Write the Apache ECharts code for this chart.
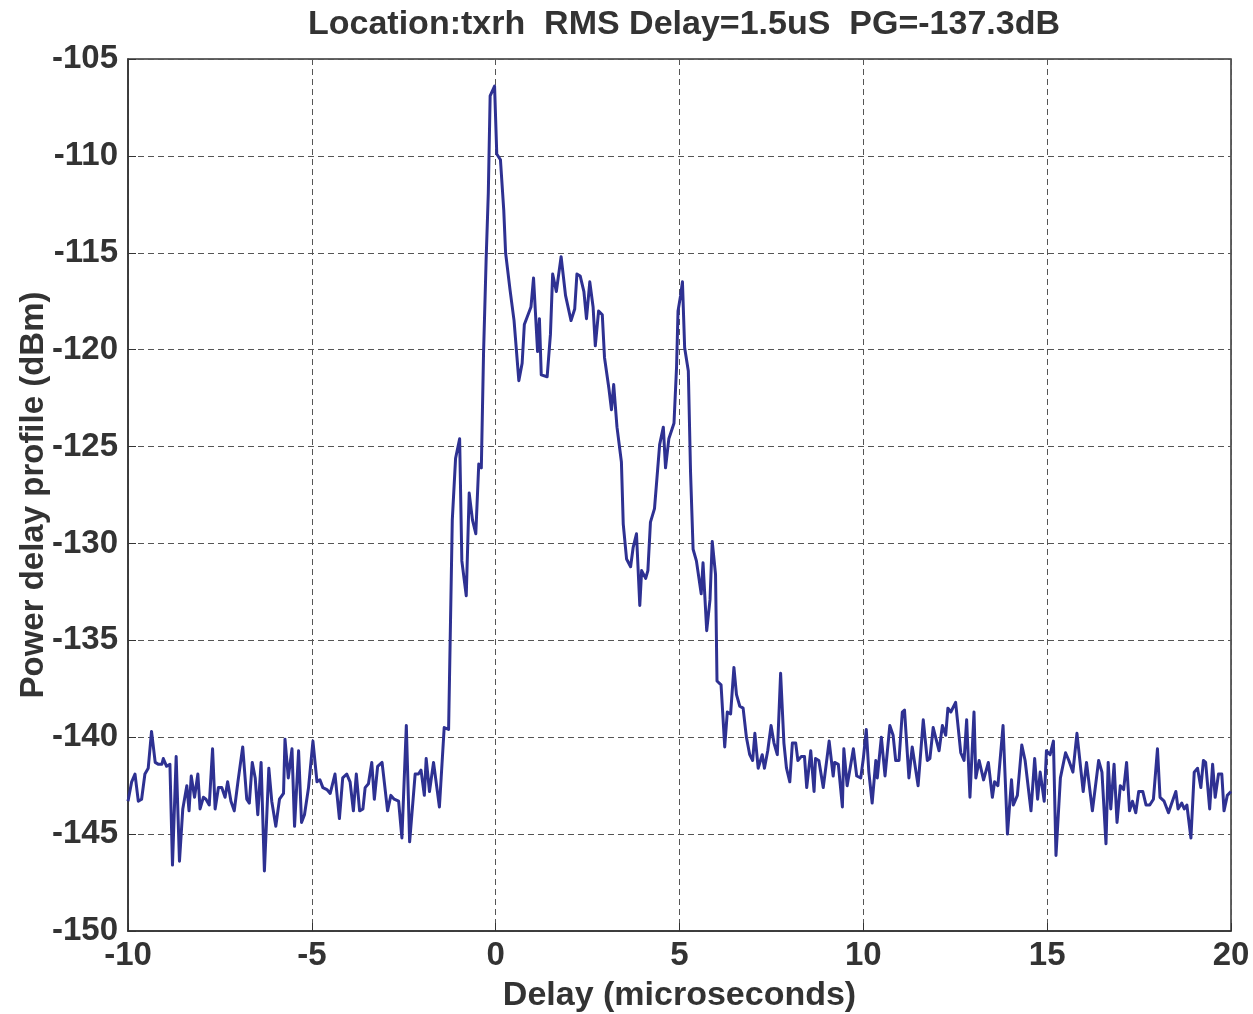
<!DOCTYPE html>
<html>
<head>
<meta charset="utf-8">
<script src="https://cdn.jsdelivr.net/npm/echarts@6/dist/echarts.min.js"></script>
<style>
html,body{margin:0;padding:0;background:#fff;}
#chart{width:1253px;height:1014px;}
</style>
</head>
<body>
<div id="chart"></div>
<script>
const titleText = 'Location:txrh  RMS Delay=1.5uS  PG=-137.3dB';
const xAxisName = 'Delay (microseconds)';
const yAxisName = 'Power delay profile (dBm)';
const xTicks = [-10, -5, 0, 5, 10, 15, 20];
const yTicks = [-150, -145, -140, -135, -130, -125, -120, -115, -110, -105];

const delays = [
-10.00,-9.90,-9.81,-9.72,-9.63,-9.54,-9.45,-9.36,-9.26,-9.17,-9.08,-9.04,-8.95,-8.86,-8.79,-8.69,-8.60,-8.51,-8.40,-8.34,
-8.28,-8.19,-8.10,-8.04,-7.95,-7.88,-7.79,-7.70,-7.63,-7.54,-7.45,-7.36,-7.29,-7.20,-7.11,-7.01,-6.88,-6.77,-6.70,-6.62,
-6.54,-6.47,-6.38,-6.29,-6.17,-6.09,-5.98,-5.88,-5.77,-5.73,-5.64,-5.54,-5.47,-5.36,-5.28,-5.20,-5.09,-4.97,-4.86,
-4.78,-4.70,-4.59,-4.50,-4.37,-4.25,-4.16,-4.05,-3.96,-3.87,-3.79,-3.70,-3.61,-3.55,-3.46,-3.37,-3.30,-3.21,-3.09,-2.94,
-2.85,-2.76,-2.64,-2.55,-2.43,-2.34,-2.19,-2.10,-2.03,-1.94,-1.89,-1.80,-1.69,-1.53,-1.40,-1.28,
-1.18,-1.09,-0.98,-0.92,-0.80,-0.72,-0.63,-0.54,-0.46,-0.39,-0.33,-0.26,-0.20,-0.15,-0.03,0.03,0.13,0.22,0.27,0.39,
0.50,0.55,0.63,0.72,0.78,0.96,1.03,1.14,
1.19,1.24,1.40,1.49,1.55,1.65,1.78,1.90,2.05,2.15,2.21,2.30,2.40,2.47,2.56,2.65,2.71,2.80,2.90,2.96,
3.08,3.15,3.21,3.30,3.42,3.47,3.56,3.67,3.74,3.83,3.92,3.97,4.08,4.14,4.21,4.32,4.46,4.56,4.62,4.71,
4.85,4.92,4.96,5.03,5.08,5.14,5.24,5.30,
5.37,5.46,5.59,5.64,5.74,5.83,5.89,5.98,6.02,6.13,6.23,6.30,6.39,6.48,6.55,6.64,6.73,6.82,6.91,6.99,
7.05,7.14,7.25,7.31,7.40,7.49,7.57,7.66,7.75,7.84,7.91,8.00,8.07,8.16,8.22,8.31,8.40,8.46,8.57,8.66,
8.70,8.79,8.91,9.07,9.18,9.22,9.32,9.43,9.47,9.56,9.73,
9.82,9.93,10.00,10.08,10.15,10.24,10.34,10.38,10.49,10.59,10.72,10.81,10.88,10.97,11.06,11.12,11.24,11.33,11.49,11.63,
11.74,11.81,11.90,12.06,12.15,12.24,12.30,12.38,12.51,12.65,12.74,12.81,12.90,13.01,13.06,13.15,13.27,13.40,13.51,13.57,
13.66,13.80,13.92,14.03,14.08,14.19,14.31,14.40,
14.56,14.66,14.74,14.81,14.92,14.98,15.08,15.17,15.24,15.36,15.50,15.59,15.70,15.81,15.98,16.07,16.23,16.40,16.49,16.60,
16.66,16.73,16.82,16.90,16.99,17.08,17.16,17.24,17.32,17.41,17.49,17.60,17.69,17.79,17.89,18.00,18.07,18.18,18.30,18.39,
18.50,18.56,18.66,18.73,18.80,18.91,19.00,19.09,19.18,19.25,19.31,19.42,19.50,19.57,19.66,19.75,19.81,19.90,20.00
];

const power = [
-143.3,-142.3,-141.9,-143.3,-143.2,-141.9,-141.6,-139.7,-141.3,-141.4,-141.4,-141.1,-141.5,-141.4,-146.6,-141.0,-146.4,-143.7,-142.5,-143.8,
-142.0,-143.1,-141.9,-143.7,-143.1,-143.2,-143.5,-140.6,-143.7,-142.6,-142.6,-143.1,-142.3,-143.3,-143.8,-142.3,-140.5,-143.2,-143.4,-141.3,
-142.1,-144.0,-141.3,-146.9,-141.6,-143.3,-144.6,-143.2,-142.9,-140.1,-142.1,-140.6,-144.6,-140.7,-144.4,-144.0,-142.6,-140.2,-142.3,
-142.2,-142.6,-142.7,-142.9,-141.9,-144.2,-142.1,-141.9,-142.3,-143.8,-141.9,-143.8,-143.7,-142.6,-142.4,-141.3,-143.2,-141.5,-141.3,-143.8,
-143.0,-143.2,-143.3,-145.2,-139.4,-145.4,-141.9,-141.9,-141.7,-143.0,-141.1,-142.8,-141.3,-143.6,-139.5,-139.6,
-128.8,-125.6,-124.6,-130.9,-132.7,-127.4,-128.8,-129.5,-125.9,-126.1,-120.2,-115.4,-111.9,-106.9,-106.4,-109.9,-110.2,-112.8,-115.0,-116.9,
-118.5,-118.5,-121.6,-120.7,-118.7,-117.8,-116.3,-120.1,
-118.4,-121.3,-121.4,-119.2,-116.1,-117.0,-115.2,-117.2,-118.5,-117.9,-116.1,-116.2,-117.0,-118.4,-116.5,-117.8,-119.8,-118.0,-118.2,-120.4,
-122.0,-123.1,-121.8,-124.0,-125.8,-129.0,-130.8,-131.2,-130.2,-129.5,-133.2,-131.4,-131.8,-131.4,-128.9,-128.2,-124.9,-124.0,-126.1,-124.6,
-123.8,-120.9,-118.0,-117.2,-116.5,-119.9,-121.1,-126.3,
-130.3,-130.9,-132.6,-131.0,-134.5,-132.9,-129.9,-131.6,-137.1,-137.3,-140.5,-138.7,-138.8,-136.4,-137.8,-138.4,-138.5,-140.0,-140.9,-141.2,
-139.8,-141.6,-140.9,-141.6,-140.7,-139.4,-140.3,-140.9,-136.7,-140.3,-141.6,-142.3,-140.3,-140.3,-141.2,-141.0,-141.0,-142.6,-140.7,-142.8,
-141.1,-141.2,-142.6,-140.2,-142.0,-141.3,-141.4,-143.6,-140.6,-142.5,-140.6,
-142.0,-142.1,-141.1,-139.6,-141.8,-143.4,-141.2,-142.1,-140.0,-142.0,-139.4,-139.9,-141.2,-141.2,-138.7,-138.6,-142.1,-140.5,-142.5,-139.1,
-141.2,-141.1,-139.5,-140.7,-139.4,-139.9,-138.5,-138.7,-138.2,-140.8,-141.2,-139.1,-143.1,-138.7,-142.1,-141.2,-142.2,-141.3,-143.1,-142.3,
-142.5,-139.4,-145.0,-142.2,-143.5,-143.0,-140.4,-141.2,
-143.8,-141.1,-143.2,-141.8,-143.3,-140.7,-140.9,-140.2,-146.1,-142.1,-140.8,-141.2,-141.8,-139.8,-142.8,-141.3,-143.8,-141.2,-141.8,-145.5,
-141.3,-143.7,-141.4,-144.4,-142.5,-142.7,-141.3,-143.8,-143.3,-143.9,-142.8,-142.8,-143.5,-143.5,-143.2,-140.6,-143.1,-143.3,-143.9,-143.4,
-142.8,-143.7,-143.4,-143.7,-143.5,-145.2,-141.8,-141.6,-142.6,-141.2,-141.3,-143.7,-141.4,-143.1,-141.9,-141.9,-143.8,-143.0,-142.8
];

const seriesData = delays.map((d, i) => [d, power[i]]);

const FONT = '"Liberation Sans", Arial, Helvetica, sans-serif';
const TXT = '#333333';

const chart = echarts.init(document.getElementById('chart'), null, {renderer: 'canvas'});
chart.setOption({
  animation: false,
  backgroundColor: '#ffffff',
  title: {
    text: titleText,
    left: 679,
    textAlign: 'center',
    top: 3,
    textStyle: {fontFamily: FONT, fontSize: 34, fontWeight: 'bold', color: TXT}
  },
  grid: {
    left: 128, right: 22, top: 59, bottom: 83,
    containLabel: false,
    outerBoundsMode: 'none',
    show: true, borderColor: '#333', borderWidth: 1.5, backgroundColor: '#fff'
  },
  xAxis: {
    type: 'value',
    min: xTicks[0], max: xTicks[xTicks.length - 1], interval: 5,
    name: xAxisName, nameLocation: 'middle', nameGap: 48,
    nameMoveOverlap: false,
    nameTextStyle: {fontFamily: FONT, fontSize: 34, fontWeight: 'bold', color: TXT},
    axisLine: {show: true, onZero: false, lineStyle: {color: '#333', width: 1.5}},
    axisTick: {show: true, inside: true, length: 8, lineStyle: {color: '#333'}},
    axisLabel: {margin: 8, fontFamily: FONT, fontSize: 33, fontWeight: 'bold', color: TXT},
    splitLine: {show: true, lineStyle: {color: '#555', width: 1, type: [6, 4]}}
  },
  yAxis: {
    type: 'value',
    min: yTicks[0], max: yTicks[yTicks.length - 1], interval: 5,
    name: yAxisName, nameLocation: 'middle', nameGap: 78,
    nameMoveOverlap: false,
    nameTextStyle: {fontFamily: FONT, fontSize: 33, fontWeight: 'bold', color: TXT},
    axisLine: {show: true, onZero: false, lineStyle: {color: '#333', width: 1.5}},
    axisTick: {show: true, inside: true, length: 8, lineStyle: {color: '#333'}},
    axisLabel: {margin: 10, fontFamily: FONT, fontSize: 33, fontWeight: 'bold', color: TXT},
    splitLine: {show: true, lineStyle: {color: '#555', width: 1, type: [6, 4]}}
  },
  series: [{
    type: 'line',
    data: seriesData,
    showSymbol: false,
    symbol: 'none',
    lineStyle: {color: '#2E3192', width: 3, join: 'round'},
    itemStyle: {color: '#2E3192'},
    z: 3
  }]
});
</script>
</body>
</html>
